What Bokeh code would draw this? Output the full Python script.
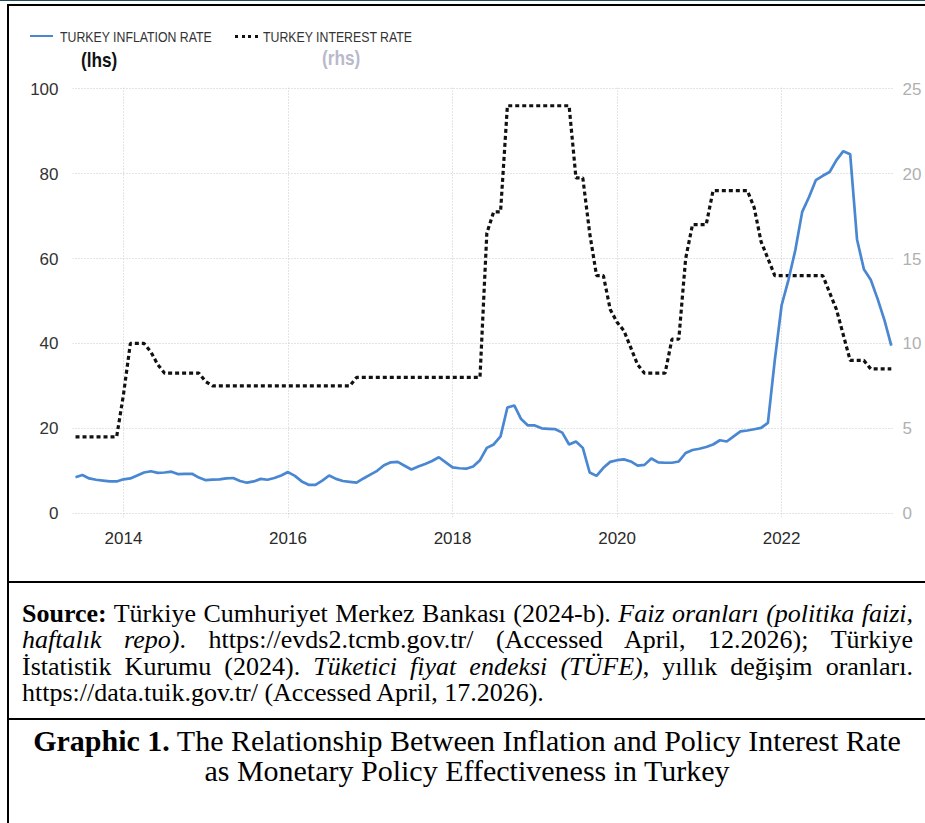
import pandas as pd
from bokeh.plotting import figure
from bokeh.models import Range1d, LinearAxis, FixedTicker, Div
from bokeh.layouts import column, row
from bokeh.embed import file_html
from bokeh.resources import INLINE

# ---------------- data (monthly, Jun 2013 .. May 2023) ----------------
start_month = "2013-06-01"
n_months = 120

inflation = [
    8.5, 9.0, 8.2, 7.9, 7.7, 7.5, 7.5,                                  # 2013 Jun-Dec
    8.0, 8.2, 8.9, 9.6, 9.9, 9.5, 9.6, 9.8, 9.2, 9.3, 9.3, 8.4,         # 2014
    7.8, 7.9, 8.0, 8.2, 8.3, 7.6, 7.2, 7.5, 8.1, 7.9, 8.3, 8.9,         # 2015
    9.7, 8.8, 7.5, 6.7, 6.7, 7.7, 8.9, 8.1, 7.6, 7.4, 7.2, 8.2,         # 2016
    9.1, 10.0, 11.3, 12.0, 12.1, 11.2, 10.3, 11.0, 11.6, 12.3, 13.2, 12.0,  # 2017
    10.8, 10.6, 10.5, 11.0, 12.5, 15.4, 16.2, 18.1, 24.9, 25.4, 22.2, 20.7,  # 2018
    20.7, 20.0, 19.9, 19.8, 19.0, 16.2, 16.9, 15.4, 9.6, 8.8, 10.7, 12.1,   # 2019
    12.5, 12.7, 12.2, 11.2, 11.4, 12.9, 12.0, 11.9, 11.9, 12.2, 14.2, 14.9,  # 2020
    15.2, 15.6, 16.2, 17.2, 16.9, 18.1, 19.3, 19.5, 19.8, 20.1, 21.3, 36.0,  # 2021
    49.0, 55.0, 62.0, 71.0, 74.5, 78.5, 79.5, 80.4, 83.2, 85.3, 84.6, 64.5,  # 2022
    57.5, 55.0, 50.5, 45.5, 39.5,                                       # 2023 Jan-May
]

interest = [
    4.5, 4.5, 4.5, 4.5, 4.5, 4.5, 4.5,                                  # 2013 Jun-Dec
    7.0, 10.0, 10.0, 10.0, 9.5, 8.75, 8.25, 8.25, 8.25, 8.25, 8.25, 8.25,  # 2014
    7.75, 7.5, 7.5, 7.5, 7.5, 7.5, 7.5, 7.5, 7.5, 7.5, 7.5, 7.5,        # 2015
    7.5, 7.5, 7.5, 7.5, 7.5, 7.5, 7.5, 7.5, 7.5, 7.5, 8.0, 8.0,         # 2016
    8.0, 8.0, 8.0, 8.0, 8.0, 8.0, 8.0, 8.0, 8.0, 8.0, 8.0, 8.0,         # 2017
    8.0, 8.0, 8.0, 8.0, 8.0, 16.5, 17.75, 17.75, 24.0, 24.0, 24.0, 24.0,  # 2018
    24.0, 24.0, 24.0, 24.0, 24.0, 24.0, 19.75, 19.75, 16.5, 14.0, 14.0, 12.0,  # 2019
    11.25, 10.75, 9.75, 8.75, 8.25, 8.25, 8.25, 8.25, 10.25, 10.25, 15.0, 17.0,  # 2020
    17.0, 17.0, 19.0, 19.0, 19.0, 19.0, 19.0, 19.0, 18.0, 16.0, 15.0, 14.0,  # 2021
    14.0, 14.0, 14.0, 14.0, 14.0, 14.0, 14.0, 13.0, 12.0, 10.5, 9.0, 9.0,  # 2022
    9.0, 8.5, 8.5, 8.5, 8.5,                                            # 2023 Jan-May
]

year_ticks = [2014, 2016, 2018, 2020, 2022]
lhs_ticks = [0, 20, 40, 60, 80, 100]
rhs_ticks = [0, 5, 10, 15, 20, 25]

legend_labels = ["TURKEY INFLATION RATE", "TURKEY INTEREST RATE"]
axis_tags = ["(lhs)", "(rhs)"]

INF_COLOR = "#4a87d2"
INT_COLOR = "#111111"

dates = pd.date_range(start_month, periods=n_months, freq="MS")
xs = list(dates.year + (dates.month - 1) / 12.0)

SANS = "Liberation Sans, Arial, sans-serif"
SERIF = "'Liberation Serif', 'Times New Roman', serif"

# ---------------- chart ----------------
p = figure(width=916, height=507, output_backend="svg", toolbar_location=None,
           x_range=Range1d(2013.38, 2023.36), y_range=Range1d(-1, 100.3),
           min_border_left=63, min_border_right=32, min_border_top=13,
           min_border_bottom=64)
p.extra_y_ranges = {"rhs": Range1d(-0.25, 25.075)}
p.outline_line_color = None
p.background_fill_color = "white"
p.border_fill_color = "white"

ax_r = LinearAxis(y_range_name="rhs", ticker=FixedTicker(ticks=rhs_ticks))
p.add_layout(ax_r, "right")

p.xaxis.ticker = FixedTicker(ticks=year_ticks)
p.yaxis[0].ticker = FixedTicker(ticks=lhs_ticks)

for ax in [p.xaxis[0], p.yaxis[0], ax_r]:
    ax.axis_line_color = None
    ax.major_tick_line_color = None
    ax.minor_tick_line_color = None
    ax.major_label_text_font = SANS

p.xaxis.major_label_text_font_size = "17px"
p.xaxis.major_label_text_color = "#2b2b2b"
p.xaxis.major_label_standoff = 8
p.yaxis[0].major_label_text_font_size = "17px"
p.yaxis[0].major_label_text_color = "#333333"
p.yaxis[0].major_label_standoff = 8
ax_r.major_label_text_font_size = "17px"
ax_r.major_label_text_color = "#b0b0b0"
ax_r.major_label_standoff = 3

for g in (p.xgrid, p.ygrid):
    g.grid_line_color = "#c8c8c8"
    g.grid_line_dash = "1 2"
    g.grid_line_width = 1

p.line(xs, interest, y_range_name="rhs", line_color=INT_COLOR,
       line_width=3.2, line_dash="4 3")
p.line(xs, inflation, line_color=INF_COLOR, line_width=2.7)

# ---------------- header: legend and axis tags ----------------
narrow = "transform:scaleX(0.82); transform-origin:left center; white-space:nowrap;"
hdr_html = (
    f'<div style="position:relative; width:916px; height:68px; font-family:{SANS};">'
    f'<div style="position:absolute; left:21px; top:28.7px; width:23px; height:0; '
    f'border-top:2.6px solid {INF_COLOR};"></div>'
    f'<div style="position:absolute; left:51px; top:23px; font-size:15px; line-height:16px; '
    f'color:#333; {narrow}">{legend_labels[0]}</div>'
    f'<div style="position:absolute; left:226px; top:29px; width:23px; height:0; '
    f'border-top:3px dotted {INT_COLOR};"></div>'
    f'<div style="position:absolute; left:254px; top:23px; font-size:15px; line-height:16px; '
    f'color:#333; {narrow}">{legend_labels[1]}</div>'
    f'<div style="position:absolute; left:72px; top:43px; font-size:21px; line-height:21px; '
    f'font-weight:bold; color:#111; {narrow}">{axis_tags[0]}</div>'
    f'<div style="position:absolute; left:313px; top:41px; font-size:21px; line-height:21px; '
    f'font-weight:bold; color:#b9b9ca; {narrow}">{axis_tags[1]}</div>'
    '</div>'
)
hdr_div = Div(width=916, height=68, text=hdr_html, margin=0)

# ---------------- table frame and texts ----------------
def bar(w, h, color="black"):
    return Div(width=w, height=h, text="", margin=0,
               styles={"background-color": color})

def gap():
    return bar(7, 1, "white")

line_css = "text-align:justify; text-align-last:justify; white-space:nowrap;"
src_html = (
    f'<div style="box-sizing:border-box; padding:18px 0 0 13px; width:904px; '
    f'font-family:{SERIF}; font-size:26px; line-height:26.3px; color:#000;">'
    f'<div style="{line_css}"><b>Source:</b> Türkiye Cumhuriyet Merkez Bankası (2024-b). '
    '<i>Faiz oranları (politika faizi,</i></div>'
    f'<div style="{line_css}"><i>haftalık repo)</i>. https://evds2.tcmb.gov.tr/ '
    '(Accessed April, 12.2026); Türkiye</div>'
    f'<div style="{line_css}">İstatistik Kurumu (2024). <i>Tüketici fiyat endeksi (TÜFE)</i>, '
    'yıllık değişim oranları.</div>'
    '<div style="white-space:nowrap;">https://data.tuik.gov.tr/ (Accessed April, 17.2026).</div>'
    '</div>'
)
cap_html = (
    f'<div style="box-sizing:border-box; padding-top:6px; width:916px; text-align:center; '
    f'font-family:{SERIF}; font-size:30px; line-height:30px; color:#000; white-space:nowrap;">'
    '<div><b>Graphic 1.</b> The Relationship Between Inflation and Policy Interest Rate</div>'
    '<div>as Monetary Policy Effectiveness in Turkey</div>'
    '</div>'
)

src_div = Div(width=916, height=135, text=src_html, margin=0)
cap_div = Div(width=916, height=103, text=cap_html, margin=0)

layout = column(
    bar(925, 1, "#1f4e5f"),
    bar(925, 3, "white"),
    row(gap(), bar(918, 2)),
    row(gap(), bar(2, 68), hdr_div),
    row(gap(), bar(2, 507), p),
    row(gap(), bar(918, 2)),
    row(gap(), bar(2, 135), src_div),
    row(gap(), bar(918, 2)),
    row(gap(), bar(2, 103), cap_div),
)

open("out.html", "w").write(file_html(layout, INLINE))
